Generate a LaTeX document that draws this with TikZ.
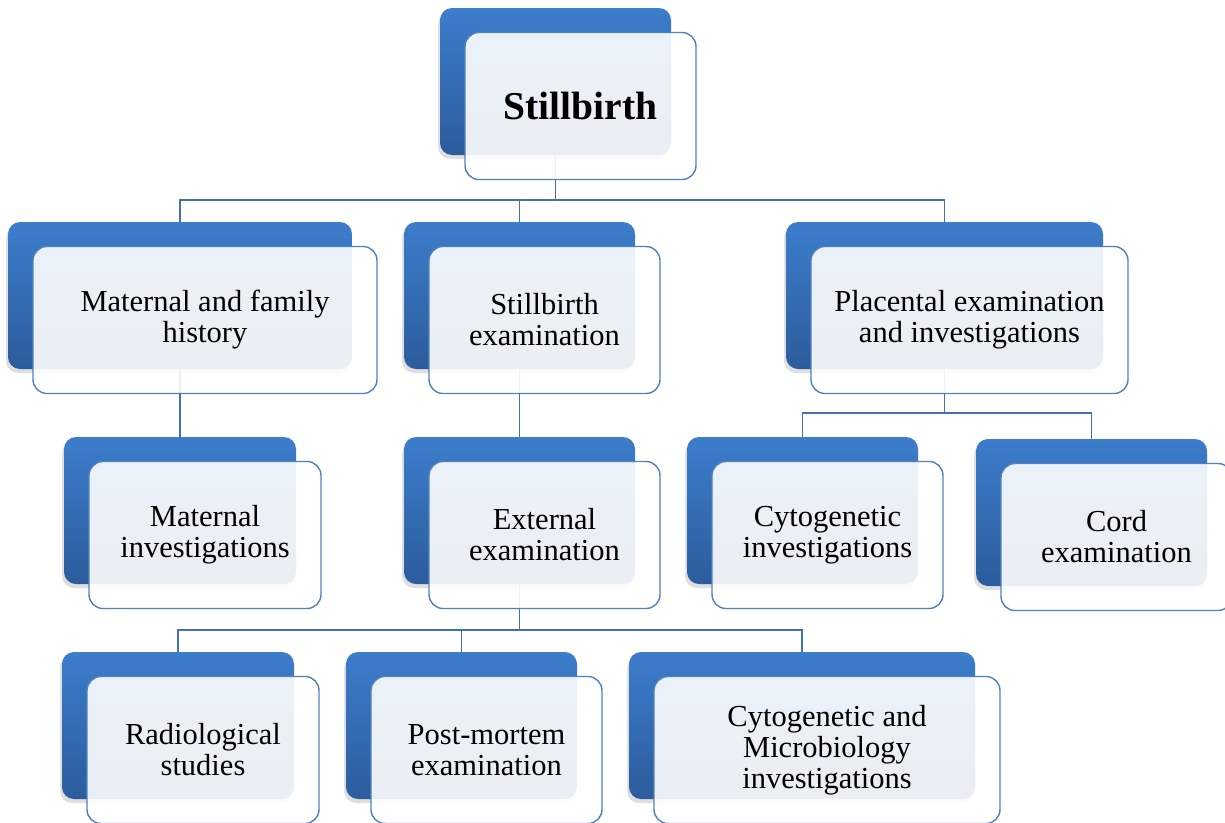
\documentclass[tikz,border=0pt]{standalone}
\usepackage{fontspec}
\setmainfont{Liberation Serif}
\usetikzlibrary{positioning, shadows}
\definecolor{boxblue}{RGB}{60,125,204}
\definecolor{boxdark}{RGB}{44,92,156}
\definecolor{edgeblue}{RGB}{79,129,189}
\definecolor{wireblue}{RGB}{66,112,176}
\tikzset{
x=1pt, y=-1pt, % one unit per pixel of the sketch, y running down
backbox/.style={rounded corners=12pt, top color=boxblue, bottom color=boxdark,
  minimum height=147pt, inner sep=0pt,
  drop shadow={shadow xshift=-2pt, shadow yshift=-4pt, opacity=0.25}}, % the dark card behind
frontbox/.style={draw=edgeblue, line width=1.4pt, rounded corners=14pt, fill=white,
  fill opacity=0.9, text opacity=1, minimum height=147pt, inner sep=0pt,
  align=center, font=\fontsize{30.5}{31}\selectfont, xshift=25pt, yshift=-24.5pt}, % the pale card with text
wire/.style={draw=wireblue, line width=1.4pt}, % connector lines
}
\begin{document}
\begin{tikzpicture}
    \useasboundingbox (0,0) rectangle (1225,822);
    % dark cards
    \node[backbox, minimum width=231pt] (s) at (555.5,81.5) {};
    \node[backbox, minimum width=344pt] (mfh) at (180,295.5) {};
    \node[backbox, minimum width=231pt] (se) at (519.5,295.5) {};
    \node[backbox, minimum width=317pt] (pe) at (944.5,295.5) {};
    \node[backbox, minimum width=232pt] (mi) at (180,510.5) {};
    \node[backbox, minimum width=231pt] (ee) at (519.5,510.5) {};
    \node[backbox, minimum width=231pt] (ci) at (802.5,510.5) {};
    \node[backbox, minimum width=231pt] (ce) at (1091.5,512.5) {};
    \node[backbox, minimum width=232pt] (rs) at (178,725.5) {};
    \node[backbox, minimum width=231pt] (pm) at (461.5,725.5) {};
    \node[backbox, minimum width=346pt] (cm) at (802,725.5) {};
    % bars
    \coordinate (bar1) at (555.5,200);
    \coordinate (bar2) at (944.5,413);
    \coordinate (bar3) at (519.5,630);
    \draw[wire] (s.south) -- (bar1) -| (mfh.north);
    \draw[wire] (bar1) -| (se.north);
    \draw[wire] (bar1) -| (pe.north);
    \draw[wire] (mfh.south) -- (mi.north);
    \draw[wire] (se.south) -- (ee.north);
    \draw[wire] (pe.south) -- (bar2) -| (ci.north);
    \draw[wire] (bar2) -| (ce.north);
    \draw[wire] (ee.south) -- (bar3) -| (rs.north);
    \draw[wire] (bar3) -| (pm.north);
    \draw[wire] (bar3) -| (cm.north);
    % pale cards
    \node[frontbox, minimum width=231pt, font=\fontsize{39.5}{40}\selectfont\bfseries] (sf) at (s) {Stillbirth};
    \node[frontbox, minimum width=344pt] (mfhf) at (mfh) {Maternal and family\\history};
    \node[frontbox, minimum width=231pt] (sef) at (se) {Stillbirth\\examination};
    \node[frontbox, minimum width=317pt] (pef) at (pe) {Placental examination\\and investigations};
    \node[frontbox, minimum width=232pt] (mif) at (mi) {Maternal\\investigations};
    \node[frontbox, minimum width=231pt] (eef) at (ee) {External\\examination};
    \node[frontbox, minimum width=231pt] (cif) at (ci) {Cytogenetic\\investigations};
    \node[frontbox, minimum width=231pt] (cef) at (ce) {Cord\\examination};
    \node[frontbox, minimum width=232pt] (rsf) at (rs) {Radiological\\studies};
    \node[frontbox, minimum width=231pt] (pmf) at (pm) {Post-mortem\\examination};
    \node[frontbox, minimum width=346pt] (cmf) at (cm) {Cytogenetic and\\Microbiology\\investigations};
\end{tikzpicture}
\end{document}
